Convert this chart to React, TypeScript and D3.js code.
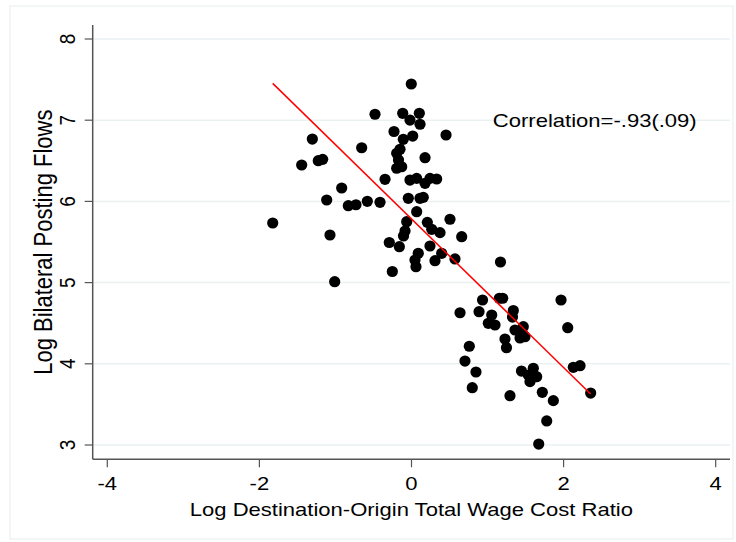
import React from "react";
import * as d3 from "d3";

// ---- data ----
const xValues = [
  -1.825, -1.444, -1.304, -1.226, -1.168, -1.115, -1.072, -1.01, -0.918, -0.831,
  -0.73, -0.655, -0.581, -0.48, -0.414, -0.348, -0.292, -0.252, -0.23, -0.195,
  -0.151, -0.171, -0.195, -0.129, -0.16, -0.116, -0.108, -0.105, -0.085, -0.063,
  -0.042, -0.02, -0.02, -0.003, 0.016, 0.068, 0.068, 0.046, 0.059, 0.089,
  0.103, 0.112, 0.112, 0.155, 0.178, 0.178, 0.208, 0.243, 0.266, 0.243,
  0.309, 0.331, 0.375, 0.397, 0.454, 0.506, 0.572, 0.66, 0.638, 0.703,
  0.76, 0.799, 0.848, 0.888, 0.934, 1.01, 1.098, 1.055, 1.155, 1.199,
  1.17, 1.229, 1.249, 1.295, 1.339, 1.328, 1.361, 1.427, 1.47, 1.47,
  1.492, 1.446, 1.536, 1.558, 1.602, 1.646, 1.673, 1.72, 1.778, 1.865,
  1.966, 2.054, 2.128, 2.216, 2.356,
];
const yValues = [
  5.734, 6.448, 6.768, 6.501, 6.518, 6.017, 5.586, 5.011, 6.165, 5.947,
  5.959, 6.661, 6.001, 7.073, 5.989, 6.272, 5.494, 5.137, 6.861, 6.592,
  6.642, 6.51, 6.408, 6.427, 5.442, 7.085, 6.765, 5.574, 5.635, 5.75,
  6.038, 7.002, 6.263, 7.446, 6.805, 6.284, 5.873, 5.278, 5.196, 5.361,
  7.085, 6.95, 6.038, 6.05, 6.538, 6.223, 5.742, 6.284, 5.656, 5.451,
  5.27, 6.276, 5.615, 5.361, 6.818, 5.78, 5.291, 5.565, 4.629, 4.034,
  4.216, 3.706, 3.899, 4.642, 4.786, 4.499, 4.478, 4.601, 4.807, 4.807,
  5.254, 4.305, 4.198, 3.607, 4.656, 4.576, 4.416, 4.318, 4.457, 4.355,
  4.334, 3.911, 3.862, 3.78, 3.945, 3.841, 3.012, 3.649, 3.296, 3.546,
  4.786, 4.445, 3.957, 3.977, 3.64,
];
const fitIntercept = 5.784;
const fitSlope = -0.915;
const xTicks = [-4, -2, 0, 2, 4];
const yTicks = [3, 4, 5, 6, 7, 8];
const xTitle = "Log Destination-Origin Total Wage Cost Ratio";
const yTitle = "Log Bilateral Posting Flows";
const noteText = "Correlation=-.93(.09)";
const notePos = [1.07, 7.0];

const W = 736;
const H = 542;
const FONT = "'Liberation Sans', Arial, Helvetica, sans-serif";
const STRETCH = 1.16;

export default function App() {
  const x = d3.scaleLinear().domain([-4, 4]).range([107.3, 715.7]);
  const y = d3.scaleLinear().domain([3, 8]).range([445, 39]);
  const plotLeft = 92.7;
  const plotRight = 730;
  const plotTop = 25;
  const plotBottom = 459.3;
  const [xMin, xMax] = d3.extent(xValues) as [number, number];
  const fitLine = d3
    .line<number>()
    .x((v) => x(v))
    .y((v) => y(fitIntercept + fitSlope * v));
  const axisColor = "#555";
  const gridColor = "#eaf1f3";
  const tickFont = 19;
  const titleFont = 19;

  return (
    <svg
      width={W}
      height={H}
      style={{ position: "absolute", left: 0, top: 0, display: "block", background: "#fff" }}
      fontFamily={FONT}
    >
      <rect x={0} y={0} width={W} height={H} fill="#fff" />
      <rect x={10} y={6} width={723} height={533} fill="none" stroke="#eef3f4" strokeWidth={1.5} />
      {/* gridlines */}
      {yTicks.map((t) => (
        <line key={"g" + t} x1={plotLeft} x2={plotRight} y1={y(t)} y2={y(t)} stroke={gridColor} strokeWidth={1.5} />
      ))}
      {/* points */}
      {xValues.map((v, i) => (
        <circle key={i} cx={x(v)} cy={y(yValues[i])} r={5.6} fill="#000" />
      ))}
      {/* fit line */}
      <path d={fitLine([xMin, xMax]) || ""} stroke="#ff0000" strokeWidth={1.5} fill="none" />
      {/* axes */}
      <line x1={plotLeft} x2={plotLeft} y1={plotTop} y2={plotBottom} stroke={axisColor} strokeWidth={1.5} />
      <line x1={plotLeft} x2={plotRight} y1={plotBottom} y2={plotBottom} stroke={axisColor} strokeWidth={1.5} />
      {yTicks.map((t) => (
        <g key={"yt" + t}>
          <line x1={plotLeft - 8} x2={plotLeft} y1={y(t)} y2={y(t)} stroke={axisColor} strokeWidth={1.2} />
          <text
            transform={`translate(75,${y(t)}) scale(${STRETCH},1) rotate(-90)`}
            textAnchor="middle"
            fontSize={tickFont}
            fill="#000"
          >
            {String(t)}
          </text>
        </g>
      ))}
      {xTicks.map((t) => (
        <g key={"xt" + t}>
          <line x1={x(t)} x2={x(t)} y1={plotBottom} y2={plotBottom + 8} stroke={axisColor} strokeWidth={1.2} />
          <text
            transform={`translate(${x(t)},${plotBottom + 31}) scale(${STRETCH},1)`}
            textAnchor="middle"
            fontSize={tickFont}
            fill="#000"
          >
            {String(t)}
          </text>
        </g>
      ))}
      <text
        transform={`translate(${(plotLeft + plotRight) / 2},516) scale(${STRETCH},1)`}
        textAnchor="middle"
        fontSize={titleFont}
        fill="#000"
      >
        {xTitle}
      </text>
      <text
        transform={`translate(52,${(plotTop + plotBottom) / 2}) scale(${STRETCH},1) rotate(-90)`}
        textAnchor="middle"
        fontSize={22}
        fill="#000"
      >
        {yTitle}
      </text>
      <text
        transform={`translate(${x(notePos[0])},${y(notePos[1]) + 7}) scale(${STRETCH},1)`}
        fontSize={titleFont}
        fill="#000"
      >
        {noteText}
      </text>
    </svg>
  );
}
